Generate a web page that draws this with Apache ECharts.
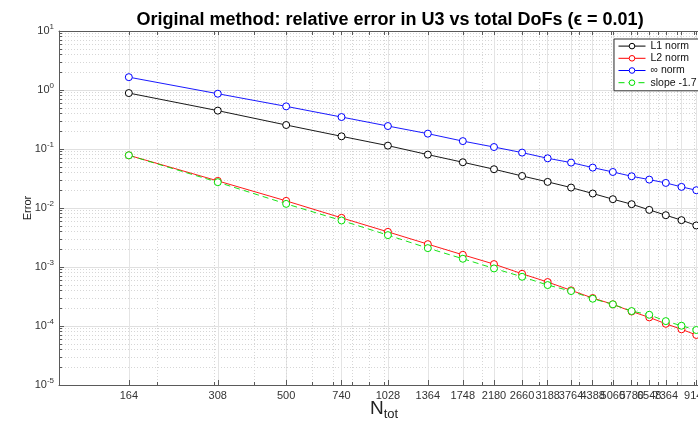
<!DOCTYPE html>
<html><head><meta charset="utf-8">
<script src="https://cdn.jsdelivr.net/npm/echarts@6/dist/echarts.min.js"></script>
<style>html,body{margin:0;padding:0;background:#fff;overflow:hidden;width:698px;height:427px}#c{width:720px;height:427px}</style>
</head><body><div id="c"></div>
<script>
// ---- data ----
const nTot = [164, 308, 500, 740, 1028, 1364, 1748, 2180, 2660, 3188, 3764, 4388, 5060, 5780, 6548, 7364, 8228, 9140];
const l1Norm = [0.887, 0.447, 0.255, 0.164, 0.114, 0.0803, 0.0596, 0.0454, 0.0349, 0.0277, 0.0222, 0.0176, 0.0141, 0.0116, 0.00929, 0.00755, 0.00622, 0.00506];
const l2Norm = [0.0782, 0.0288, 0.0132, 0.00681, 0.00394, 0.00244, 0.00161, 0.00112, 0.000767, 0.000556, 0.000402, 0.000298, 0.000233, 0.000176, 0.000140, 0.000109, 0.0000879, 0.0000705];
const infNorm = [1.65, 0.865, 0.528, 0.348, 0.245, 0.182, 0.136, 0.108, 0.0869, 0.0696, 0.0588, 0.0484, 0.0408, 0.0345, 0.0303, 0.0266, 0.0228, 0.0200];
const slopeRef = [0.0782, 0.0274, 0.01175, 0.00614, 0.00347, 0.00209, 0.00138, 0.000946, 0.000683, 0.000494, 0.000391, 0.000290, 0.000233, 0.000179, 0.000155, 0.000121, 0.000101, 0.0000855];
const seriesNames = ['L1 norm', 'L2 norm', '\u221E norm', 'slope -1.7'];
const xTickLabels = nTot;
const xMinorTicks = [200, 300, 400, 500, 600, 700, 800, 900, 1000, 2000, 3000, 4000, 5000, 6000, 7000, 8000, 9000];
const yTicks = [1e-5, 1e-4, 1e-3, 1e-2, 1e-1, 1, 10];
const yMinorTicks = [];
for (let e = -5; e <= 0; e++) for (let k = 2; k <= 9; k++) yMinorTicks.push(+(k * Math.pow(10, e)).toPrecision(3));
const titleText = 'Original method: relative error in U3 vs total DoFs (\u03F5 = 0.01)';

const FONT = "'Liberation Sans', Arial, Helvetica, sans-serif";
const chart = echarts.init(document.getElementById('c'), null, {renderer: 'canvas'});

const GRID = {left: 59, top: 31, width: 650, height: 354};
const xBase = {type: 'log', logBase: 10, min: 100, max: 10000, gridIndex: 0};
const yBase = {type: 'log', logBase: 10, min: 1e-5, max: 10, gridIndex: 0};
const axisColor = '#5a5a5a';

function mkSeries(name, vals, color, dashed) {
  return {
    name: name, type: 'line',
    data: nTot.map((n, i) => [n, vals[i]]),
    symbol: 'circle', symbolSize: 7, showSymbol: true,
    itemStyle: {color: '#fff', borderColor: color, borderWidth: 1},
    lineStyle: {color: color, width: 0.9, type: dashed ? [6, 4] : 'solid'},
    emphasis: {disabled: true},
    xAxisIndex: 0, yAxisIndex: 0
  };
}

chart.setOption({
  backgroundColor: '#fff',
  animation: false,
  textStyle: {fontFamily: FONT},
  title: {
    text: titleText, left: 385, top: 6, textAlign: 'center',
    textStyle: {fontSize: 18, fontWeight: 'bold', color: '#000', fontFamily: FONT}
  },
  grid: GRID,
  legend: {
    orient: 'vertical', left: 614, top: 39,
    data: seriesNames,
    itemWidth: 27, itemHeight: 7, itemGap: 0,
    padding: [1, 4, 2, 4],
    borderColor: '#333', borderWidth: 1, backgroundColor: '#fff',
    lineStyle: {width: 1},
    itemStyle: {borderWidth: 1},
    textStyle: {fontSize: 10.5, color: '#111', lineHeight: 12.2, fontFamily: FONT},
    selectedMode: false
  },
  xAxis: [
    Object.assign({}, xBase, {
      position: 'bottom',
      name: '{n|N}{t|tot}', nameLocation: 'middle', nameGap: 11, nameMoveOverlap: false,
      nameTextStyle: {rich: {n: {fontSize: 19, color: '#222', fontFamily: FONT}, t: {fontSize: 13, color: '#222', padding: [12, 0, 0, 0], fontFamily: FONT}}},
      axisLine: {show: true, lineStyle: {color: axisColor, width: 1}},
      axisTick: {show: true, inside: true, length: 5, customValues: xTickLabels, lineStyle: {color: axisColor}},
      axisLabel: {show: true, customValues: xTickLabels, margin: 5, fontSize: 11, color: '#333', fontFamily: FONT,
        showMinLabel: true, showMaxLabel: true, hideOverlap: false,
        formatter: v => String(Math.round(v))},
      splitLine: {show: true, lineStyle: {color: '#e4e4e4', width: 1, type: 'solid'}},
      minorTick: {show: false}, minorSplitLine: {show: false}
    }),
    Object.assign({}, xBase, {
      position: 'bottom',
      axisLine: {show: false},
      axisTick: {show: true, inside: true, length: 3, customValues: xMinorTicks, lineStyle: {color: axisColor}},
      axisLabel: {show: false},
      splitLine: {show: true, lineStyle: {color: '#d6d6d6', width: 1, type: [1, 2]}}
    }),
    Object.assign({}, xBase, {
      position: 'top',
      axisLine: {show: true, lineStyle: {color: axisColor, width: 1}},
      axisTick: {show: true, inside: true, length: 4, customValues: xTickLabels.concat(xMinorTicks), lineStyle: {color: axisColor}},
      axisLabel: {show: false},
      splitLine: {show: false}
    })
  ],
  yAxis: [
    Object.assign({}, yBase, {
      position: 'left',
      name: 'Error', nameLocation: 'middle', nameGap: 26, nameRotate: 90, nameMoveOverlap: false,
      nameTextStyle: {fontSize: 11, color: '#222', fontFamily: FONT},
      axisLine: {show: true, lineStyle: {color: axisColor, width: 1}},
      axisTick: {show: true, inside: true, length: 5, customValues: yTicks, lineStyle: {color: axisColor}},
      axisLabel: {show: true, customValues: yTicks, margin: 5, color: '#333', showMinLabel: true, showMaxLabel: true,
        formatter: v => '{b|10}{s|' + Math.round(Math.log10(v)) + '}',
        rich: {b: {fontSize: 11, color: '#333', fontFamily: FONT}, s: {fontSize: 8, color: '#333', padding: [0, 0, 9, 0], fontFamily: FONT}}},
      splitLine: {show: true, lineStyle: {color: '#e0e0e0', width: 1, type: 'solid'}}
    }),
    Object.assign({}, yBase, {
      position: 'left',
      axisLine: {show: false},
      axisTick: {show: true, inside: true, length: 3, customValues: yMinorTicks, lineStyle: {color: axisColor}},
      axisLabel: {show: false},
      splitLine: {show: true, lineStyle: {color: '#d6d6d6', width: 1, type: [1, 2]}}
    })
  ],
  series: [
    mkSeries(seriesNames[0], l1Norm, '#000000', false),
    mkSeries(seriesNames[1], l2Norm, '#ff0000', false),
    mkSeries(seriesNames[2], infNorm, '#0000ff', false),
    mkSeries(seriesNames[3], slopeRef, '#00e000', true)
  ]
});
</script></body></html>
